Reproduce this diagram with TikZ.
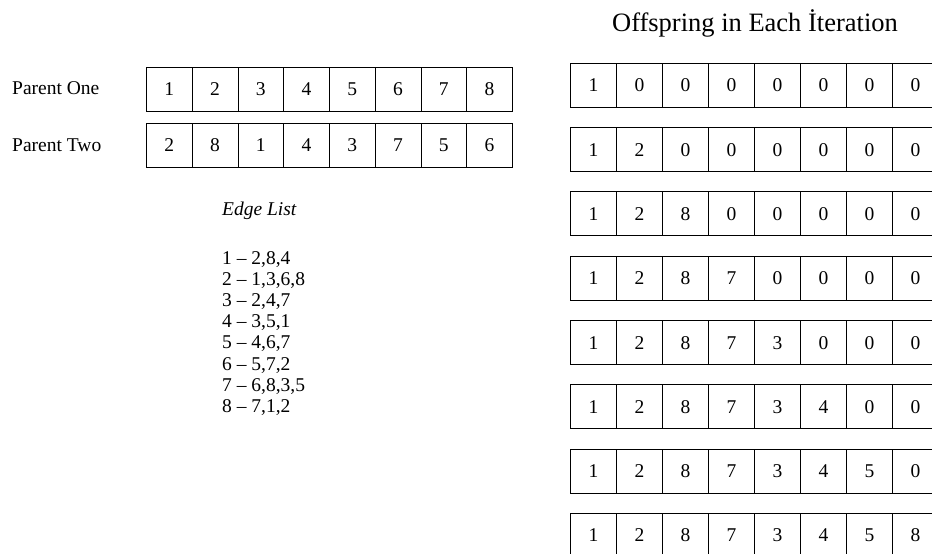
\documentclass[tikz,border=0pt]{standalone}
\usepackage{fontspec}
\setmainfont{Liberation Serif}
\begin{document}
\begin{tikzpicture}[x=1pt,y=-1pt,
  cell/.style={draw, line width=0.9pt, inner sep=0pt, minimum width=46pt, minimum height=44pt, text height=13.2pt, text depth=0pt, anchor=north west, font=\fontsize{19.5}{21}\selectfont},
  lbl/.style={font=\fontsize{19.5}{21}\selectfont, inner sep=0pt},
  title/.style={font=\fontsize{26.5}{30}\selectfont, inner sep=0pt}]
\useasboundingbox (0,0) rectangle (932,554);
\clip (0,0) rectangle (932,554);
% parents
\node[lbl, anchor=west] (p1lab) at (12,88.5) {Parent One};
\node[lbl, anchor=west] (p2lab) at (12,145) {Parent Two};
\foreach \v [count=\i from 0] in {1,2,3,4,5,6,7,8}
  \node[cell, minimum width=45.75pt] (pa\i) at (146+45.75*\i,66.5) {\v};
\foreach \v [count=\i from 0] in {2,8,1,4,3,7,5,6}
  \node[cell, minimum width=45.75pt] (pb\i) at (146+45.75*\i,122.8) {\v};
% edge list
\node[lbl, anchor=base west] (elt) at (222,215) {\itshape Edge List};
\node[lbl, anchor=north west, align=left, font=\fontsize{19.5}{21.2}\selectfont] (el) at (222,251)
  {1 -- 2,8,4\\2 -- 1,3,6,8\\3 -- 2,4,7\\4 -- 3,5,1\\5 -- 4,6,7\\6 -- 5,7,2\\7 -- 6,8,3,5\\8 -- 7,1,2};
% offspring
\node[title, anchor=base] (tt) at (755,31) {Offspring in Each İteration};
\foreach \row [count=\r from 0] in {
  {1,0,0,0,0,0,0,0},
  {1,2,0,0,0,0,0,0},
  {1,2,8,0,0,0,0,0},
  {1,2,8,7,0,0,0,0},
  {1,2,8,7,3,0,0,0},
  {1,2,8,7,3,4,0,0},
  {1,2,8,7,3,4,5,0},
  {1,2,8,7,3,4,5,8}}{
  \foreach \v [count=\i from 0] in \row
    \node[cell] (o\r c\i) at (570+46*\i,62.8+64.3*\r) {\v};
}
\end{tikzpicture}
\end{document}
